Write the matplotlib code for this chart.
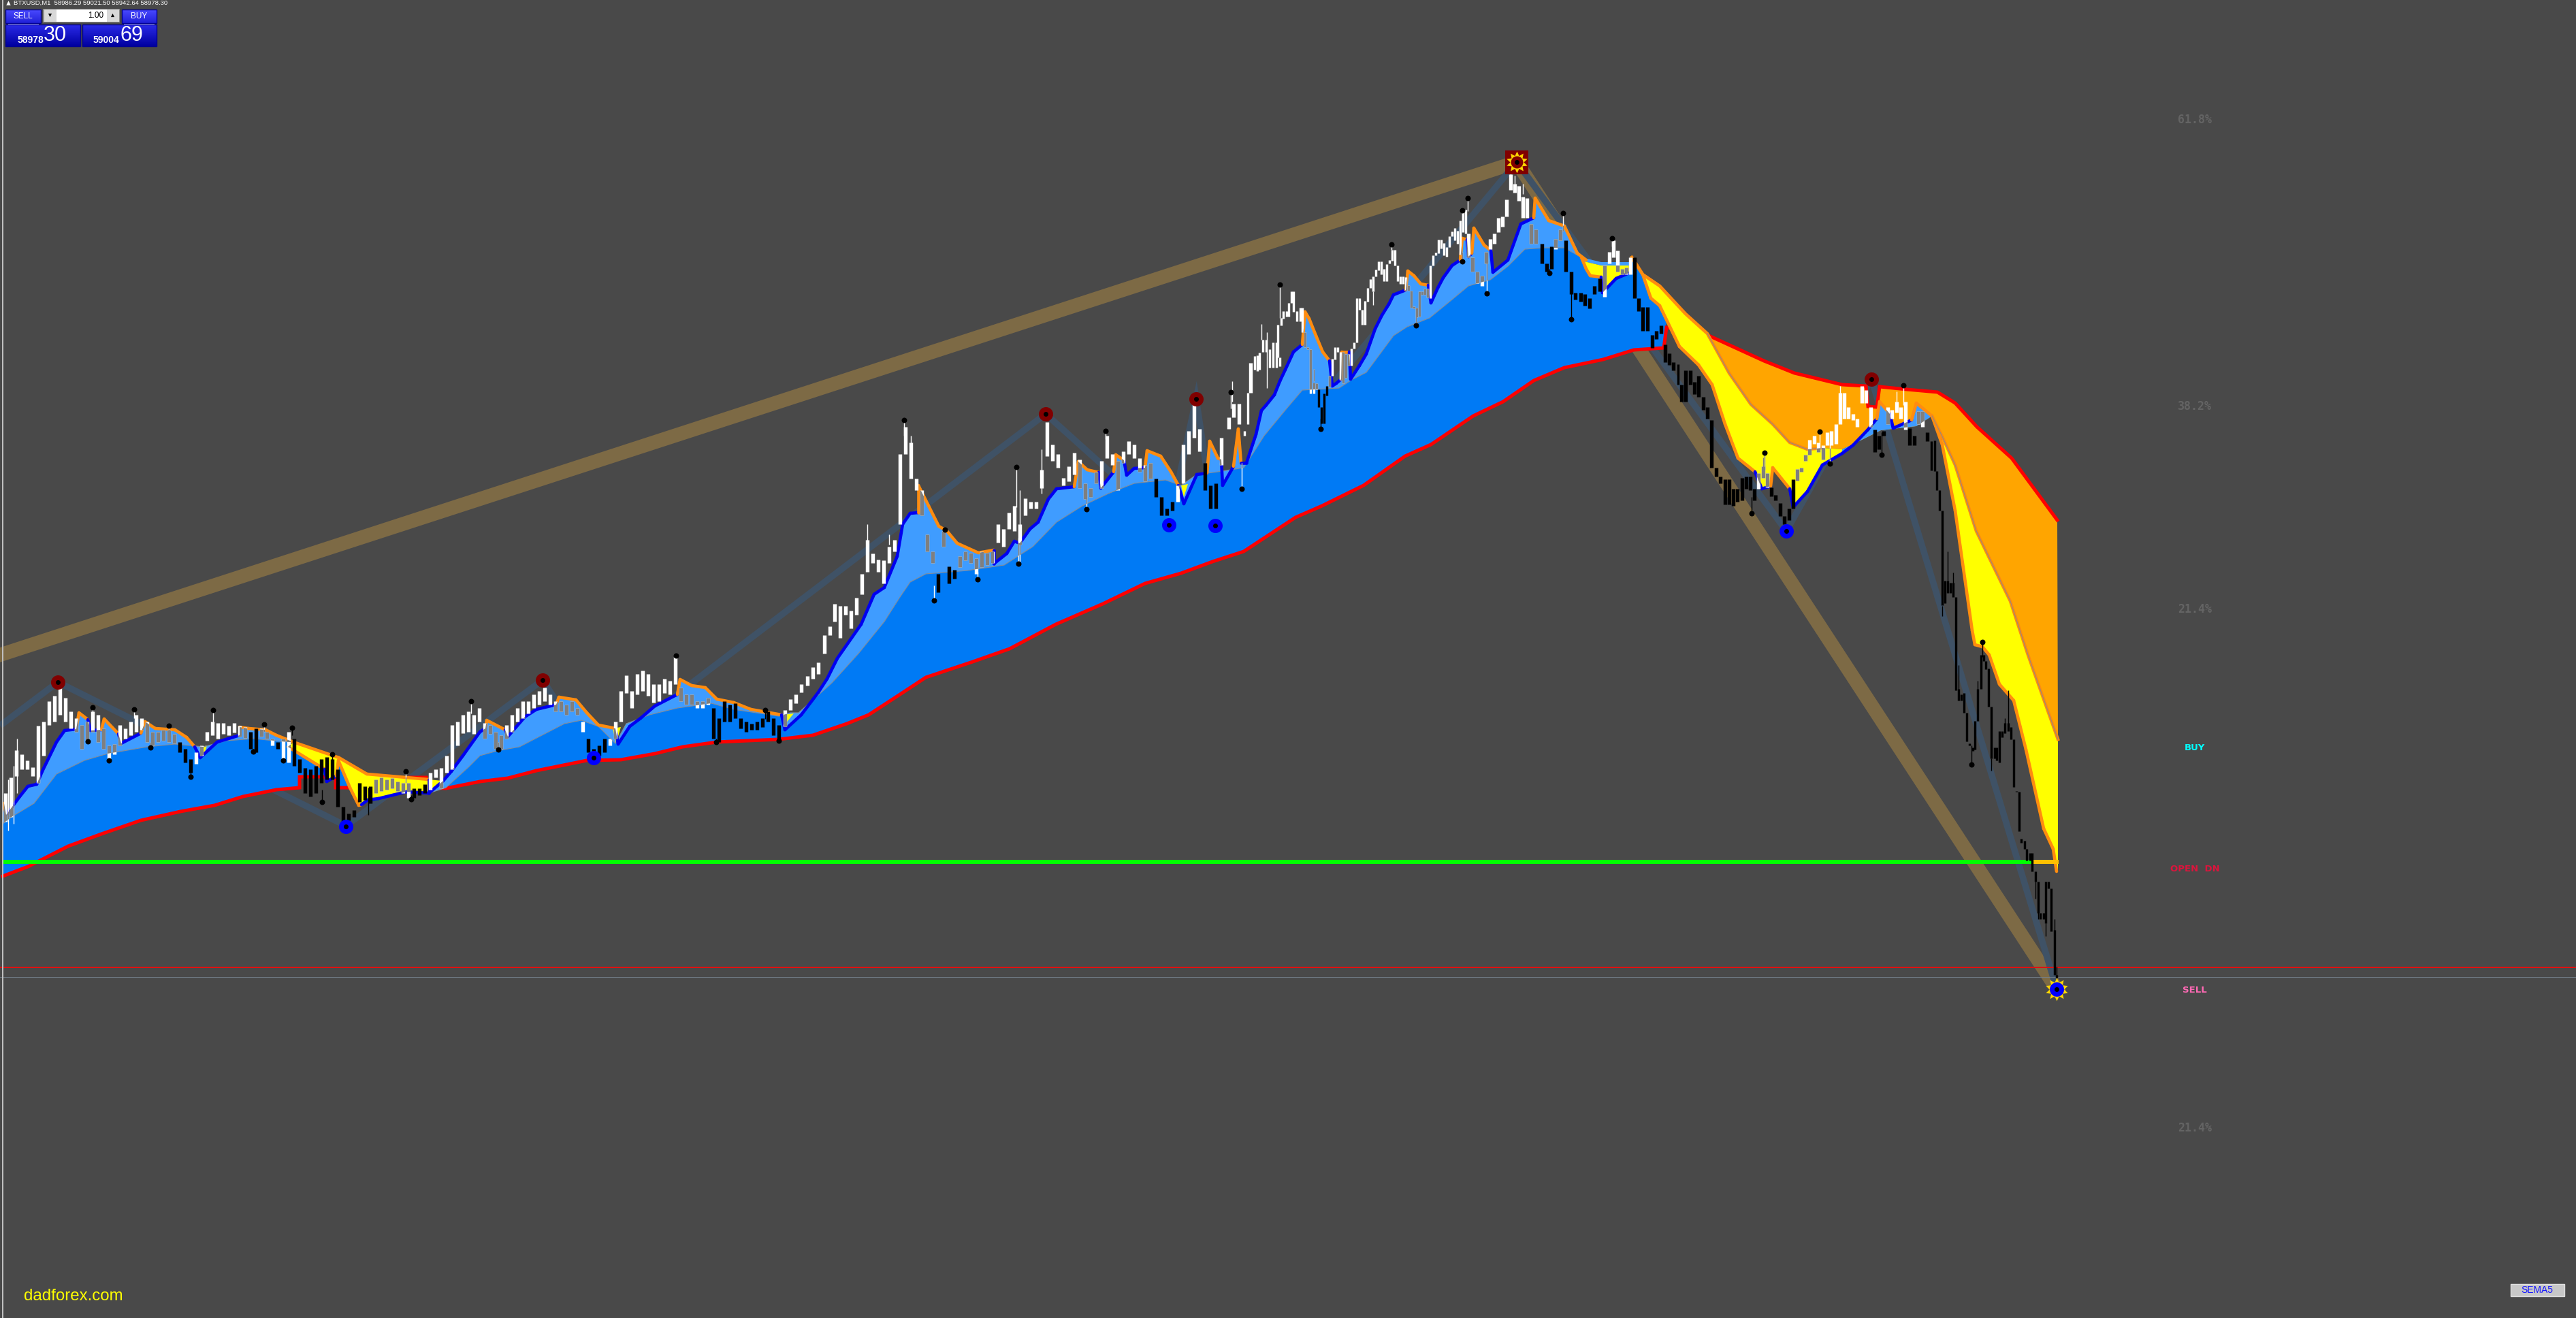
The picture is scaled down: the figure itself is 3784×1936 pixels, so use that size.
import numpy as np
import matplotlib
matplotlib.use('Agg')
import matplotlib.pyplot as plt
from matplotlib.colors import LinearSegmentedColormap
from matplotlib.patches import Rectangle
from matplotlib.path import Path

# wszystko w pikselach ekranu (os y odwrocona), tak jak na wykresie MT4
BG = '#494949'
BLUE = '#007af5'
LIGHT = '#3f9cff'
ORANGE_FILL = '#ffa500'
ORANGE = '#ff8c0f'
DARKBLUE = '#0000f0'
PX = 0.72  # 1 px w punktach przy dpi=100

# --- wolna srednia (czerwona)
slow_x = [4, 41, 100, 149, 207, 265, 315, 357, 406, 440, 440, 493, 493, 548, 602, 602, 626, 626, 655, 705, 746, 788,
          862, 912, 962, 1003, 1053, 1144, 1194, 1244, 1276, 1322, 1360, 1429, 1483, 1551, 1620, 1682, 1735, 1781,
          1827, 1903, 1942, 2003, 2064, 2102, 2164, 2208, 2253, 2298, 2355, 2400, 2444, 2448, 2508, 2591, 2636, 2706,
          2741, 2744, 2757, 2761, 2801, 2846, 2872, 2904, 2955, 3022]
slow_y = [1287, 1273, 1243, 1225, 1205, 1192, 1183, 1170, 1160, 1157, 1141, 1141, 1157, 1157, 1157, 1142, 1142, 1157,
          1158, 1148, 1143, 1132, 1117, 1116, 1107, 1097, 1090, 1086, 1080, 1063, 1050, 1020, 995, 972, 953, 917, 887,
          857, 842, 825, 810, 760, 743, 713, 670, 653, 611, 590, 559, 540, 528, 514, 511, 481, 492, 530, 548, 565,
          567, 597, 598, 568, 572, 576, 592, 627, 673, 764]

# --- srodkowa linia wstegi (szara)
mid_x = [4, 17, 50, 83, 124, 158, 216, 257, 299, 332, 373, 423, 630, 655, 688, 705, 730, 763, 796, 829, 854, 879, 904,
         920, 954, 995, 1045, 1078, 1144, 1161, 1173, 1222, 1261, 1299, 1322, 1337, 1360, 1421, 1475, 1517, 1552,
         1590, 1628, 1666, 1712, 1735, 1758, 1789, 1827, 1857, 1890, 1913, 1967, 1987, 2007, 2027, 2047, 2067, 2100,
         2133, 2157, 2189, 2215, 2240, 2266, 2298, 2323, 2352, 2393]
mid_y = [1210, 1200, 1180, 1137, 1117, 1107, 1097, 1093, 1097, 1088, 1085, 1090, 1165, 1157, 1127, 1110, 1103, 1097,
         1080, 1063, 1058, 1067, 1092, 1063, 1050, 1040, 1033, 1042, 1052, 1047, 1047, 1003, 960, 913, 877, 855, 843,
         838, 830, 803, 767, 743, 725, 710, 705, 713, 697, 693, 687, 640, 600, 573, 570, 557, 547, 520, 493, 480, 467,
         440, 420, 411, 391, 366, 364, 364, 378, 385, 385]

# --- gorna krawedz wstegi: k=0 granatowa, k=1 pomaranczowa
top_x = [6, 9, 29, 41, 54, 62, 83, 95, 112, 116, 129, 133, 149, 153, 174, 178, 207, 213, 228, 257, 274, 286, 294, 319,
         352, 352, 365, 390, 406, 431, 498, 539, 597, 630, 630, 651, 663, 680, 705, 713, 715, 742, 746, 771, 788, 817,
         821, 846, 862, 879, 904, 908, 925, 941, 962, 995, 999, 1016, 1036, 1053, 1078, 1103, 1148, 1153, 1177, 1202,
         1215, 1230, 1265, 1284, 1299, 1318, 1326, 1337, 1349, 1349, 1364, 1379, 1391, 1406, 1437, 1460, 1460, 1479,
         1490, 1498, 1513, 1525, 1540, 1552, 1578, 1584, 1597, 1614, 1617, 1636, 1639, 1651, 1655, 1666, 1682, 1685,
         1705, 1720, 1731, 1739, 1758, 1773, 1777, 1789, 1794, 1796, 1812, 1819, 1823, 1831, 1845, 1853, 1860, 1872,
         1880, 1888, 1900, 1913, 1917, 1923, 1933, 1943, 1953, 1957, 1963, 1970, 1971, 1982, 1984, 1997, 2007, 2020,
         2030, 2040, 2047, 2065, 2068, 2077, 2087, 2098, 2102, 2112, 2120, 2133, 2145, 2148, 2155, 2157, 2162, 2165,
         2180, 2190, 2193, 2215, 2234, 2253, 2255, 2275, 2298, 2317, 2330]
top_y = [1180, 1197, 1170, 1155, 1152, 1133, 1090, 1073, 1071, 1047, 1057, 1073, 1072, 1056, 1078, 1092, 1077, 1060,
         1070, 1072, 1083, 1097, 1113, 1090, 1080, 1068, 1070, 1072, 1080, 1090, 1113, 1137, 1142, 1145, 1165, 1147,
         1133, 1110, 1075, 1070, 1058, 1072, 1082, 1053, 1042, 1035, 1024, 1028, 1047, 1065, 1070, 1093, 1067, 1055,
         1037, 1020, 998, 1007, 1010, 1027, 1032, 1042, 1050, 1072, 1050, 1017, 997, 967, 917, 873, 863, 817, 770,
         754, 753, 713, 743, 773, 780, 798, 812, 808, 828, 813, 795, 798, 777, 767, 733, 718, 715, 678, 690, 694, 717,
         693, 668, 676, 698, 688, 687, 662, 670, 693, 713, 740, 697, 695, 648, 673, 675, 713, 685, 630, 680, 680, 638,
         603, 595, 580, 560, 543, 517, 506, 458, 468, 493, 517, 530, 567, 563, 557, 517, 517, 557, 537, 520, 483, 463,
         447, 433, 426, 398, 405, 417, 419, 445, 423, 408, 390, 382, 350, 352, 377, 372, 335, 360, 368, 400, 382, 329,
         320, 291, 324, 332, 372, 382]
top_k = [1, 1, 0, 0, 0, 0, 0, 0, 0, 1, 1, 0, 0, 1, 1, 0, 0, 1, 1, 1, 1, 1, 0, 0,
         0, 1, 1, 1, 1, 1, 1, 1, 1, 1, 0, 0, 0, 0, 0, 0, 1, 1, 0, 0, 0, 0,
         1, 1, 1, 1, 1, 0, 0, 0, 0, 0, 1, 1, 1, 1, 1, 1, 1, 0, 0, 0,
         0, 0, 0, 0, 0, 0, 0, 0, 0, 1, 1, 1, 1, 1, 1, 1, 0, 0,
         0, 0, 0, 0, 0, 0, 0, 1, 1, 1, 0, 0, 1, 1, 0, 0, 0, 1,
         1, 1, 1, 0, 0, 0, 1, 1, 1, 0, 0, 1, 1, 0, 0, 0, 0, 0,
         0, 0, 0, 0, 1, 1, 1, 1, 1, 0, 0, 0, 1, 1, 0, 0, 0, 0,
         0, 0, 0, 0, 1, 1, 1, 1, 0, 0, 0, 0, 0, 1, 1, 0, 0, 1,
         1, 1, 0, 0, 0, 0, 1, 1, 1, 1, 1]

# --- dolne krawedzie stref zoltych
low1_x = [423, 477, 480, 494, 497, 514, 527, 531, 540, 556, 597, 630]
low1_y = [1097, 1130, 1148, 1140, 1117, 1157, 1183, 1182, 1175, 1173, 1163, 1165]
low1_k = [1, 1, 0, 0, 1, 1, 1, 1, 0, 0, 0, 0]
low2_x = [2323, 2330, 2336, 2352, 2354, 2374, 2393]
low2_y = [378, 395, 405, 407, 430, 409, 401]
low2_k = [1, 1, 1, 1, 0, 0, 0]
low3_x = [2397, 2413, 2425, 2438, 2467, 2495, 2515, 2534, 2553, 2578, 2588, 2601, 2604, 2629, 2634, 2655, 2677, 2706,
          2722, 2744, 2757, 2761, 2776, 2781, 2808, 2815, 2838, 2853, 2872, 2897, 2901, 2912, 2922, 2937, 2958, 2976,
          3002, 3016, 3021]
low3_y = [378, 403, 438, 449, 509, 536, 565, 623, 673, 693, 718, 714, 687, 718, 745, 722, 683, 666,
          654, 631, 615, 590, 608, 629, 617, 592, 611, 653, 750, 926, 947, 950, 962, 1005, 1029, 1101,
          1217, 1247, 1280]
low3_k = [1, 1, 1, 1, 1, 1, 1, 1, 1, 1, 0, 0, 1, 1, 0, 0, 0, 0,
          0, 0, 0, 1, 1, 0, 0, 1, 1, 1, 1, 1, 1, 1, 1, 1, 1, 1,
          1, 1, 1]

# --- gorna pomaranczowa krawedz spadku
up_x = [2397, 2413, 2438, 2476, 2508, 2540, 2572, 2604, 2629, 2655, 2677, 2706, 2719, 2763, 2815, 2838, 2853, 2872,
        2903, 2918, 2953, 2979, 3023]
up_y = [378, 403, 420, 461, 490, 548, 594, 623, 650, 660, 658, 660, 654, 632, 626, 611, 641, 683,
        780, 811, 883, 962, 1086]

# --- male zolte wstawki
tiny_x = [[296, 304, 300], [900, 912, 905], [1150, 1166, 1153], [1735, 1745, 1739], [630, 650, 632]]
tiny_y = [[1097, 1095, 1108], [1070, 1068, 1092], [1050, 1048, 1064], [713, 711, 730], [1145, 1147, 1164]]

# --- swiece: x, gora i dol korpusu
c_x = [8, 16, 24, 32, 40, 48, 56, 64, 72, 80,
       88, 96, 104, 112, 120, 128, 136, 144, 152, 160,
       168, 176, 184, 192, 200, 208, 216, 224, 232, 240,
       248, 256, 264, 272, 280, 288, 296, 304, 312, 320,
       328, 336, 344, 352, 360, 368, 376, 384, 392, 400,
       408, 416, 424, 432, 440, 448, 456, 464, 472, 480,
       488, 496, 504, 512, 520, 528, 536, 544, 552, 560,
       568, 576, 584, 592, 600, 608, 616, 624, 632, 640,
       648, 656, 664, 672, 680, 688, 696, 704, 712, 720,
       728, 736, 744, 752, 760, 768, 776, 784, 792, 800,
       808, 816, 824, 832, 840, 848, 856, 864, 872, 880,
       888, 896, 904, 912, 920, 928, 936, 944, 952, 960,
       968, 976, 984, 992, 1000, 1008, 1016, 1024, 1032, 1040,
       1048, 1056, 1064, 1072, 1080, 1088, 1096, 1104, 1112, 1120,
       1128, 1136, 1144, 1153, 1161, 1169, 1177, 1186, 1194, 1202,
       1211, 1219, 1226, 1234, 1242, 1250, 1258, 1266, 1274, 1282,
       1290, 1298, 1306, 1314, 1322, 1330, 1338, 1346, 1354, 1362,
       1370, 1378, 1386, 1394, 1402, 1410, 1418, 1426, 1434, 1442,
       1450, 1458, 1466, 1474, 1482, 1490, 1498, 1506, 1514, 1522,
       1530, 1538, 1546, 1554, 1562, 1570, 1578, 1586, 1594, 1602,
       1610, 1618, 1626, 1634, 1642, 1650, 1658, 1666, 1674, 1682,
       1690, 1698, 1706, 1714, 1722, 1730, 1738, 1746, 1754, 1762,
       1770, 1778, 1786, 1794, 1805, 1812, 1820, 1828, 1833, 1837,
       1843, 1847, 1850, 1855, 1860, 1865, 1870, 1875, 1880, 1877,
       1882, 1885, 1890, 1893, 1897, 1900, 1905, 1910, 1913, 1917,
       1921, 1925, 1930, 1934, 1937, 1941, 1945, 1949, 1953, 1957,
       1961, 1965, 1969, 1973, 1977, 1981, 1985, 1989, 1993, 1997,
       2001, 2005, 2009, 2013, 2017, 2021, 2025, 2029, 2033, 2037,
       2041, 2045, 2049, 2053, 2057, 2061, 2065, 2069, 2073, 2077,
       2081, 2085, 2089, 2093, 2097, 2101, 2105, 2109, 2113, 2117,
       2121, 2125, 2129, 2133, 2137, 2141, 2145, 2149, 2153, 2157,
       2163, 2170, 2177, 2183, 2189, 2195, 2201, 2207, 2213, 2219,
       2225, 2231, 2237, 2243, 2249, 2256, 2265, 2272, 2279, 2285,
       2292, 2300, 2308, 2314, 2322, 2328, 2335, 2342, 2350, 2357,
       2364, 2370, 2376, 2383, 2389, 2395, 2401, 2407, 2413, 2420,
       2427, 2433, 2440, 2446, 2452, 2458, 2465, 2470, 2476, 2483,
       2489, 2495, 2502, 2508, 2514, 2521, 2527, 2534, 2540, 2546,
       2552, 2559, 2565, 2571, 2577, 2583, 2590, 2596, 2602, 2608,
       2615, 2621, 2628, 2634, 2640, 2646, 2652, 2658, 2665, 2671,
       2678, 2684, 2690, 2697, 2703, 2709, 2715, 2722, 2728, 2735,
       2741, 2748, 2754, 2760, 2767, 2773, 2779, 2786, 2792, 2799,
       2805, 2812, 2818, 2824, 2831, 2837, 2842, 2845, 2849, 2853,
       2857, 2861, 2865, 2869, 2873, 2877, 2881, 2885, 2889, 2893,
       2898, 2901, 2905, 2910, 2914, 2917, 2921, 2925, 2930, 2933,
       2937, 2941, 2945, 2950, 2954, 2958, 2962, 2966, 2969, 2974,
       2977, 2982, 2985, 2990, 2994, 2997, 3002, 3005, 3009, 3013,
       3018, 3021]
c_top = [1165, 1142, 1102, 1108, 1117, 1127, 1066, 1060, 1030, 1022,
         1010, 1025, 1045, 1055, 1065, 1060, 1045, 1050, 1070, 1095,
         1093, 1065, 1070, 1060, 1050, 1055, 1060, 1075, 1075, 1072,
         1072, 1078, 1090, 1100, 1115, 1105, 1095, 1075, 1060, 1062,
         1062, 1066, 1062, 1066, 1068, 1075, 1070, 1070, 1075, 1085,
         1090, 1085, 1075, 1085, 1115, 1128, 1130, 1125, 1115, 1112,
         1115, 1130, 1185, 1195, 1190, 1150, 1155, 1155, 1145, 1142,
         1145, 1143, 1148, 1150, 1150, 1158, 1158, 1152, 1135, 1130,
         1128, 1110, 1065, 1060, 1050, 1045, 1050, 1040, 1062, 1065,
         1075, 1080, 1065, 1050, 1040, 1030, 1030, 1020, 1015, 1010,
         1020, 1030, 1030, 1035, 1030, 1040, 1060, 1085, 1100, 1095,
         1085, 1085, 1060, 1015, 992, 1015, 990, 985, 990, 1005,
         1005, 997, 1000, 965, 1010, 1020, 1020, 1030, 1030, 1025,
         1040, 1055, 1030, 1035, 1033, 1055, 1060, 1063, 1060, 1055,
         1045, 1055, 1065, 1043, 1027, 1020, 1005, 993, 980, 973,
         933, 920, 887, 890, 890, 897, 878, 843, 793, 813,
         822, 823, 803, 793, 667, 627, 650, 703, 720, 785,
         810, 843, 780, 832, 837, 817, 810, 812, 820, 810,
         812, 810, 770, 777, 753, 743, 770, 732, 737, 737,
         690, 620, 653, 667, 702, 685, 665, 675, 710, 717,
         693, 677, 640, 667, 677, 663, 648, 653, 673, 683,
         680, 703, 730, 747, 737, 713, 653, 633, 593, 630,
         680, 713, 710, 643, 613, 593, 593, 633, 577, 533,
         523, 522, 518, 499, 499, 513, 503, 503, 525, 477,
         467, 457, 457, 445, 428, 428, 457, 452, 452, 488,
         510, 513, 562, 563, 572, 598, 578, 567, 552, 527,
         510, 510, 517, 517, 520, 520, 512, 503, 438, 438,
         455, 442, 423, 410, 406, 396, 384, 384, 395, 388,
         382, 367, 367, 390, 406, 406, 407, 419, 427, 450,
         452, 428, 428, 424, 424, 390, 375, 371, 352, 352,
         357, 363, 347, 340, 335, 339, 324, 308, 308, 343,
         378, 399, 405, 370, 351, 343, 320, 318, 293, 256,
         270, 273, 289, 291, 329, 337, 358, 387, 362, 351,
         337, 353, 399, 430, 430, 432, 438, 420, 409, 389,
         370, 353, 368, 395, 393, 378, 378, 438, 451, 451,
         492, 486, 478, 506, 519, 532, 535, 565, 544, 544,
         561, 552, 583, 598, 617, 687, 700, 704, 704, 718,
         718, 702, 700, 700, 718, 695, 685, 695, 716, 727,
         739, 758, 747, 704, 689, 687, 668, 646, 640, 650,
         654, 635, 633, 623, 577, 577, 598, 608, 615, 567,
         573, 598, 631, 640, 633, 598, 602, 590, 598, 590,
         629, 640, 604, 604, 635, 648, 647, 692, 720, 750,
         853, 853, 856, 856, 877, 1012, 1020, 1018, 1047, 1092,
         1098, 1059, 1012, 962, 962, 971, 982, 1038, 1098, 1098,
         1074, 1074, 1062, 1062, 1068, 1086, 1162, 1163, 1232, 1235,
         1247, 1253, 1253, 1280, 1295, 1341, 1341, 1295, 1295, 1305,
         1366, 1432]
c_bot = [1207, 1200, 1140, 1130, 1130, 1140, 1150, 1110, 1065, 1060,
         1050, 1060, 1070, 1075, 1100, 1088, 1075, 1090, 1100, 1115,
         1108, 1095, 1085, 1080, 1075, 1072, 1090, 1095, 1090, 1088,
         1090, 1092, 1105, 1120, 1135, 1122, 1110, 1088, 1080, 1085,
         1078, 1080, 1076, 1082, 1084, 1100, 1105, 1082, 1085, 1095,
         1100, 1115, 1120, 1125, 1135, 1165, 1170, 1165, 1150, 1145,
         1145, 1185, 1210, 1205, 1200, 1178, 1175, 1180, 1165, 1162,
         1160, 1158, 1162, 1165, 1172, 1172, 1168, 1165, 1160, 1142,
         1158, 1135, 1130, 1095, 1077, 1075, 1078, 1060, 1085, 1078,
         1100, 1100, 1085, 1075, 1060, 1055, 1048, 1040, 1035, 1030,
         1035, 1045, 1045, 1050, 1045, 1050, 1075, 1105, 1115, 1110,
         1105, 1095, 1085, 1060, 1018, 1040, 1020, 1015, 1022, 1032,
         1030, 1018, 1020, 1005, 1030, 1035, 1035, 1040, 1040, 1035,
         1085, 1090, 1060, 1060, 1055, 1070, 1075, 1072, 1072, 1068,
         1060, 1080, 1085, 1067, 1043, 1033, 1017, 1007, 997, 990,
         960, 933, 913, 937, 903, 923, 903, 873, 840, 827,
         840, 857, 827, 810, 770, 667, 703, 720, 757, 810,
         827, 870, 803, 857, 850, 833, 823, 827, 843, 833,
         830, 827, 797, 803, 777, 780, 800, 757, 747, 747,
         717, 670, 677, 687, 713, 707, 697, 717, 733, 730,
         710, 717, 673, 683, 720, 680, 667, 673, 693, 707,
         703, 730, 757, 757, 750, 737, 710, 667, 643, 663,
         720, 747, 747, 683, 630, 613, 623, 640, 623, 577,
         543, 545, 543, 517, 517, 540, 540, 540, 538, 525,
         478, 468, 465, 465, 445, 458, 472, 472, 488, 510,
         513, 578, 578, 572, 598, 622, 622, 581, 568, 552,
         528, 517, 558, 563, 555, 537, 537, 512, 503, 455,
         477, 477, 443, 423, 428, 406, 397, 403, 413, 413,
         387, 383, 390, 413, 417, 417, 427, 427, 452, 453,
         466, 465, 433, 433, 437, 438, 390, 375, 372, 365,
         375, 377, 363, 347, 353, 358, 374, 341, 343, 378,
         399, 416, 420, 387, 366, 358, 341, 333, 318, 279,
         283, 295, 320, 320, 358, 358, 387, 399, 395, 366,
         353, 399, 432, 440, 443, 449, 453, 432, 428, 436,
         387, 378, 399, 403, 403, 403, 438, 457, 486, 486,
         511, 498, 490, 532, 536, 544, 565, 590, 590, 565,
         579, 583, 602, 615, 687, 700, 710, 741, 741, 743,
         737, 735, 718, 720, 735, 718, 702, 716, 729, 735,
         758, 770, 764, 747, 706, 693, 677, 668, 652, 664,
         675, 654, 654, 652, 623, 615, 615, 617, 627, 592,
         592, 627, 664, 660, 640, 623, 615, 606, 615, 631,
         654, 654, 623, 627, 648, 691, 692, 720, 750, 889,
         886, 871, 871, 877, 1014, 1029, 1029, 1047, 1089, 1095,
         1103, 1101, 1059, 1012, 971, 983, 1038, 1114, 1114, 1117,
         1120, 1083, 1077, 1074, 1086, 1156, 1163, 1221, 1238, 1247,
         1264, 1264, 1280, 1295, 1341, 1350, 1350, 1356, 1305, 1368,
         1432, 1436]

# --- dluzsze knoty
wick_x = [136, 197, 248, 313, 388, 429, 488, 596, 692, 993, 1124, 129, 160, 221, 280, 372, 416, 473, 604, 732, 1052,
          1144, 541, 1328, 1493, 1624, 1808, 1388, 1372, 1436, 1496, 1596, 1824, 1940, 2156, 2148, 2296, 2368, 2592,
          2673, 2796, 2148, 2184, 2276, 2308, 2573, 2688, 2764, 2912, 2896, 3021, 2950, 2905, 2877, 2861, 2869, 2853,
          2945, 2925, 2994, 3005, 2990, 3018, 1853, 1861, 1880, 2044, 2080, 1930, 2017, 12, 20, 25, 1338, 1306, 1274,
          1498, 1530, 1754, 1810, 2219, 2225, 2237, 2590, 2703, 2786]
wick_hi = [1039, 1042, 1066, 1043, 1064, 1069, 1108, 1133, 1030, 963, 1043, 1085, 1112, 1090, 1130, 1100, 1110, 1160,
           1168, 1090, 1085, 1082, 1157, 617, 686, 633, 576, 778, 860, 840, 790, 725, 680, 615, 291, 309, 313, 350, 665,
           634, 566, 370, 385, 395, 430, 730, 650, 635, 943, 1095, 1420, 1014, 1000, 977, 810, 841, 890, 1055, 1114,
           1340, 1356, 1295, 1350, 476, 488, 418, 359, 453, 542, 428, 1145, 1125, 1085, 640, 785, 770, 720, 660, 585,
           560, 250, 258, 270, 672, 567, 575]
wick_lo = [1050, 1055, 1075, 1062, 1075, 1080, 1118, 1150, 1048, 968, 1056, 1089, 1117, 1098, 1141, 1104, 1117, 1178,
           1174, 1101, 1090, 1088, 1197, 640, 745, 645, 600, 790, 882, 851, 828, 748, 718, 630, 310, 325, 340, 362, 690,
           650, 595, 384, 431, 401, 469, 754, 681, 668, 965, 1123, 1436, 1065, 1015, 1014, 853, 857, 905, 1065, 1132,
           1350, 1375, 1320, 1370, 499, 570, 467, 367, 478, 560, 448, 1220, 1210, 1165, 660, 800, 800, 825, 725, 600,
           590, 262, 275, 285, 690, 580, 590]

# x-owe zakresy czarnych swiec
dark_from = [0, 261, 368, 406, 429, 601, 858, 1046, 1376, 1392, 1696, 1768, 1935, 2262, 2298, 2399, 2600, 2752, 2803, 2829]
dark_to = [6, 286, 378, 415, 548, 626, 895, 1144, 1380, 1404, 1724, 1788, 1951, 2281, 2352, 2578, 2636, 2769, 2814, 3030]

# --- zygzak, trend, poziomy
zig_x = [4, 85, 508, 797, 872, 1536, 1717, 1757, 1785, 2228, 2624, 2749, 3021]
zig_y = [1063, 1002, 1213, 999, 1113, 608, 771, 586, 772, 238, 780, 557, 1452]
trend_x = [0, 2228, 3021]
trend_y = [962, 238, 1452]

red_dot_x = [85, 797, 1536, 1757, 2749]
red_dot_y = [1002, 999, 608, 586, 557]
blue_dot_x = [508, 872, 1717, 1785, 2624]
blue_dot_y = [1214, 1113, 771, 772, 780]
black_dot_x = [136, 197, 248, 313, 388, 429, 488, 596, 692, 993, 1124, 129, 160, 221, 280, 372, 416, 473, 604, 732,
               1052, 1144, 1328, 1493, 1624, 1808, 1388, 1372, 1436, 1496, 1596, 1824, 1940, 2156, 2148, 2296, 2368,
               2592, 2673, 2796, 2148, 2184, 2276, 2308, 2573, 2688, 2764, 2912, 2896, 1880, 2044, 2080]
black_dot_y = [1039, 1042, 1066, 1043, 1064, 1069, 1108, 1133, 1030, 963, 1043, 1089, 1117, 1098, 1141, 1104, 1117,
               1178, 1174, 1101, 1090, 1088, 617, 686, 633, 576, 778, 882, 851, 828, 748, 718, 630, 291, 309, 313, 350,
               665, 634, 566, 384, 431, 401, 469, 754, 681, 668, 943, 1123, 418, 359, 478]

fib_labels = ['61.8%', '38.2%', '21.4%', '21.4%']
fib_y = [176, 597, 895, 1657]
side_labels = ['BUY', 'OPEN  DN', 'SELL']
side_y = [1098, 1277, 1454]
side_colors = ['#00ffff', '#dc143c', '#ff69b4']

fig = plt.figure(figsize=(37.84, 19.36), dpi=100, facecolor=BG)
ax = fig.add_axes([0, 0, 1, 1], facecolor=BG)
ax.axis('off')


def s(d):
    return (d * PX) ** 2


def poly(x1, y1, x2, y2, color, z):
    xs = np.r_[x1, np.asarray(x2)[::-1]]
    ys = np.r_[y1, np.asarray(y2)[::-1]]
    return ax.fill(xs, ys, color=color, lw=0, zorder=z)[0]


def runs(x, y, k, z=7):
    for i in range(len(x) - 1):
        ax.plot(x[i:i + 2], y[i:i + 2], color=ORANGE if k[i + 1] else DARKBLUE, lw=4.6 * PX,
                solid_capstyle='round', zorder=z)


slow_x = np.array(slow_x); slow_y = np.array(slow_y)
mid_x = np.array(mid_x); mid_y = np.array(mid_y)
top_x = np.array(top_x); top_y = np.array(top_y); top_k = np.array(top_k)
low3_x = np.array(low3_x); low3_y = np.array(low3_y)
up_x = np.array(up_x); up_y = np.array(up_y)

# linie w tle
ax.plot(trend_x, trend_y, color='#7d6a45', lw=20.5 * PX, solid_joinstyle='miter', zorder=1)
ax.plot(zig_x, zig_y, color='#3f5266', lw=9.5 * PX, solid_joinstyle='miter', zorder=2)
ax.axhline(1421, color='#e01010', lw=2 * PX, zorder=2)
ax.axhline(1435, color='#76838f', lw=1 * PX, zorder=2)

# wypelnienia wstegi
m = mid_x <= 423
m2 = (mid_x >= 630) & (mid_x <= 2323)
k3 = low3_x <= 2438
blue_tx = np.r_[mid_x[m], low1_x, mid_x[m2], low2_x[1:], low3_x[k3], [2448]]
blue_ty = np.r_[mid_y[m], low1_y, mid_y[m2], low2_y[1:], low3_y[k3], [472]]
q = slow_x <= 2444
poly(blue_tx, blue_ty, slow_x[q], slow_y[q], BLUE, 3)
q = slow_x >= 2508
u = up_x >= 2508
poly(slow_x[q], slow_y[q], up_x[u], up_y[u], ORANGE_FILL, 3)
ax.plot(slow_x, slow_y, color='#ff0000', lw=5 * PX, solid_joinstyle='miter', zorder=4)

clip_polys = []
t1 = top_x <= 431
clip_polys.append(poly(top_x[t1], top_y[t1], mid_x[m], mid_y[m], LIGHT, 5))
t2 = (top_x >= 630) & (top_x <= 2330)
clip_polys.append(poly(top_x[t2], top_y[t2], mid_x[m2], mid_y[m2], LIGHT, 5))
# pasek przy szczycie i pasek na koncu
t5 = mid_x >= 2323
poly(mid_x[t5], mid_y[t5], mid_x[t5], mid_y[t5] + 5, LIGHT, 5)
l4 = (low3_x >= 2706) & (low3_x <= 2838)
u4 = (up_x >= 2706) & (up_x <= 2838)
clip_polys.append(poly(low3_x[l4], low3_y[l4], up_x[u4], up_y[u4], LIGHT, 5))

t3 = (top_x >= 423) & (top_x <= 630)
clip_polys.append(poly(top_x[t3], top_y[t3], low1_x, low1_y, 'yellow', 5))
clip_polys.append(poly(mid_x[t5], mid_y[t5] + 5, low2_x, low2_y, 'yellow', 5))
l5 = low3_x <= 2706
u5 = up_x <= 2706
clip_polys.append(poly(up_x[u5], up_y[u5], low3_x[l5], low3_y[l5], 'yellow', 5))
l6 = low3_x >= 2853
u6 = up_x >= 2853
clip_polys.append(poly(up_x[u6], up_y[u6], np.r_[low3_x[l6], [3023]], np.r_[low3_y[l6], [1277]], 'yellow', 5))
for tx, ty in zip(tiny_x, tiny_y):
    ax.fill(tx, ty, color='yellow', lw=0, zorder=5)

# linie wstegi
ax.plot(mid_x[m], mid_y[m], color='#7f8ea0', lw=1.2 * PX, zorder=6)
ax.plot(mid_x[m2], mid_y[m2], color='#7f8ea0', lw=1.2 * PX, zorder=6)
runs(top_x, top_y, top_k)
runs(low1_x, low1_y, low1_k)
runs(low2_x, low2_y, low2_k)
runs(low3_x, low3_y, low3_k)
u7 = up_x <= 2677
u8 = up_x >= 2838
ax.plot(up_x[u7], up_y[u7], color=ORANGE, lw=4.6 * PX, zorder=7)
ax.plot(up_x[u8], up_y[u8], color=ORANGE, lw=4.6 * PX, zorder=7)
ax.plot(up_x[(up_x >= 2508) & u7], up_y[(up_x >= 2508) & u7], color='#9a8a78', lw=1.2 * PX, zorder=7)
ax.plot(up_x[u8], up_y[u8], color='#9a8a78', lw=1.2 * PX, zorder=7)

# poziomy
ax.plot([4, 2985], [1266, 1266], color='#00ff00', lw=6 * PX, solid_capstyle='butt', zorder=8)
ax.plot([2985, 3024], [1266, 1266], color='#ffc000', lw=6 * PX, solid_capstyle='butt', zorder=8)

# swiece
c_x = np.array(c_x); c_top = np.array(c_top); c_bot = np.array(c_bot)
wick_x = np.array(wick_x); wick_hi = np.array(wick_hi); wick_lo = np.array(wick_lo)


def is_dark(x):
    d = np.zeros(len(x), bool)
    for a, b in zip(dark_from, dark_to):
        d |= (x >= a) & (x <= b)
    return d


cd = is_dark(c_x)
wd = is_dark(wick_x)
# gesciej ustawione swiece maja wezsze korpusy
gap = np.abs(np.r_[np.diff(c_x), 4])
body_w = np.where(gap >= 6, 5.4, 3.4) * PX
W_WICK = 1.4 * PX
ax.vlines(wick_x[~wd], wick_hi[~wd], wick_lo[~wd], color='white', lw=W_WICK, capstyle='butt', zorder=9)
ax.vlines(c_x[~cd], c_top[~cd], c_bot[~cd], color='white', lw=body_w[~cd], capstyle='butt', zorder=9)
for p in clip_polys:
    g1 = ax.vlines(wick_x[~wd], wick_hi[~wd], wick_lo[~wd], color='#7f7f7f', lw=W_WICK, capstyle='butt', zorder=10)
    g1.set_clip_path(p)
    g2 = ax.vlines(c_x[~cd], c_top[~cd], c_bot[~cd], color='#7f7f7f', lw=body_w[~cd], capstyle='butt', zorder=10)
    g2.set_clip_path(p)
ax.vlines(wick_x[wd], wick_hi[wd], wick_lo[wd], color='black', lw=W_WICK, capstyle='butt', zorder=11)
ax.vlines(c_x[cd], c_top[cd], c_bot[cd], color='black', lw=body_w[cd], capstyle='butt', zorder=11)

# znaczniki
ax.scatter(red_dot_x, red_dot_y, s=s(21), color='#800000', lw=0, zorder=12)
ax.scatter(blue_dot_x, blue_dot_y, s=s(21), color='#0000ff', lw=0, zorder=12)
ax.scatter(red_dot_x + blue_dot_x, red_dot_y + blue_dot_y, s=s(7), color='black', lw=0, zorder=13)
ax.scatter(black_dot_x, black_dot_y, s=s(8), color='black', lw=0, zorder=13)

sun = Path.unit_regular_star(10, 0.62)
ax.add_patch(Rectangle((2211, 221), 34, 35, color='#800000', lw=0, zorder=12))
ax.scatter([2228], [238], s=s(32), marker=sun, color='#ffd700', lw=0, zorder=13)
ax.scatter([2228], [238], s=s(18), color='#800000', lw=0, zorder=14)
ax.scatter([2228], [238], s=s(7), color='black', lw=0, zorder=15)
ax.scatter([3021], [1453], s=s(34), marker=sun, color='#ffd700', lw=0, zorder=13)
ax.scatter([3021], [1453], s=s(21), color='#0000ff', lw=0, zorder=14)
ax.scatter([3021], [1453], s=s(7), color='black', lw=0, zorder=15)

# teksty po prawej
for t, y in zip(fib_labels, fib_y):
    ax.text(3224, y, t, color='#646464', fontsize=12, family='DejaVu Sans Mono', fontweight='bold',
            ha='center', va='center', zorder=20)
for t, y, c in zip(side_labels, side_y, side_colors):
    ax.text(3224, y, t, color=c, fontsize=9.5, family='DejaVu Sans', fontweight='bold', ha='center', va='center',
            zorder=20)

ax.add_patch(Rectangle((3688, 1886), 79, 18, facecolor='#c8c8c8', edgecolor='#e0e0e0', lw=1, zorder=20))
ax.text(3727, 1895, 'SEMA5', color='#1414ff', fontsize=10, family='Liberation Sans', ha='center', va='center', zorder=21)
ax.text(35, 1904, 'dadforex.com', color='#ffff00', fontsize=17.3, family='Liberation Sans', ha='left', va='center',
        zorder=21)

# panel handlowy
cm1 = LinearSegmentedColormap.from_list('a', ['#4a4aff', '#2020d8'])
cm2 = LinearSegmentedColormap.from_list('b', ['#2a2ae8', '#0000a0'])
grad = np.linspace(0, 1, 64).reshape(-1, 1)
for x0, x1, y0, y1, cm in [(8, 60, 14, 34, cm1), (179, 230, 14, 34, cm1), (8, 118, 36, 68, cm2), (121, 230, 36, 68, cm2)]:
    ax.imshow(grad, extent=(x0, x1, y1, y0), cmap=cm, aspect='auto', zorder=20)
    ax.add_patch(Rectangle((x0, y0), x1 - x0, y1 - y0, fill=False, edgecolor='#000090', lw=1, zorder=21))
ax.add_patch(Rectangle((63, 13), 113, 20, color='#8c8c8c', lw=0, zorder=20))
ax.add_patch(Rectangle((65, 14), 18, 18, color='#d8d8d8', lw=0, zorder=21))
ax.add_patch(Rectangle((157, 14), 18, 18, color='#d8d8d8', lw=0, zorder=21))
ax.add_patch(Rectangle((83, 14), 74, 18, color='white', lw=0, zorder=21))
ax.scatter([73], [22], marker='v', s=14, color='black', lw=0, zorder=22)
ax.scatter([165], [22], marker='^', s=14, color='black', lw=0, zorder=22)
ax.scatter([12], [4], marker='^', s=22, color='white', lw=0, zorder=22)
ax.plot([12, 56], [34.5, 34.5], color='#b0b0ff', lw=0.7, zorder=22)
ax.plot([182, 226], [34.5, 34.5], color='#b0b0ff', lw=0.7, zorder=22)

txt = dict(family='Liberation Sans', va='center', zorder=23)
ax.text(20, 4, 'BTXUSD,M1  58986.29 59021.50 58942.64 58978.30', color='white', fontsize=6.8, ha='left', **txt)
ax.text(34, 24, 'SELL', color='white', fontsize=8.5, ha='center', **txt)
ax.text(204, 24, 'BUY', color='white', fontsize=8.5, ha='center', **txt)
ax.text(152, 23, '1.00', color='black', fontsize=8.5, ha='right', **txt)
ax.text(26, 59, '58978', color='white', fontsize=10, fontweight='bold', ha='left', **txt)
ax.text(64, 52, '30', color='white', fontsize=22, ha='left', **txt)
ax.text(137, 59, '59004', color='white', fontsize=10, fontweight='bold', ha='left', **txt)
ax.text(176, 52, '69', color='white', fontsize=22, ha='left', **txt)

ax.plot([4, 4], [0, 1936], color='#c0c0c0', lw=2 * PX, zorder=25)

ax.set_xlim(0, 3784)
ax.set_ylim(1936, 0)
fig.savefig('out.png', dpi=100, facecolor=BG)
